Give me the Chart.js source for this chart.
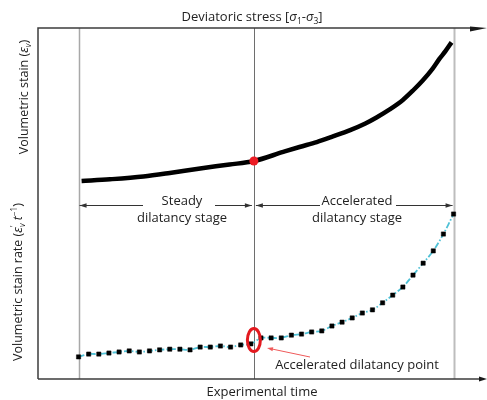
<!DOCTYPE html>
<html>
<head>
<meta charset="utf-8">
<title>Dilatancy stages</title>
<script src="https://cdn.jsdelivr.net/npm/chart.js@4.4.1/dist/chart.umd.min.js"></script>
<style>
    html, body { margin: 0; padding: 0; background: #fff; }
    #wrap { width: 487px; height: 400px; }
</style>
</head>
<body>
<div id="wrap"><canvas id="dilatancyChart" width="487" height="400"></canvas></div>
<script>
// Experimental time samples (arbitrary units) and volumetric strain rate
const timePoints = [0, 1, 2, 3, 4, 5, 6, 7, 8, 9, 10, 11, 12, 13, 14, 15, 16, 17, 18,
    19, 20, 21, 22, 23, 24, 25, 26, 27, 28, 29, 30, 31, 32, 33, 34, 35, 36, 37];
const rateValues = [6.3, 7.1, 7.1, 7.4, 7.7, 8.0, 7.7, 8.0, 8.3, 8.5, 8.5, 8.3, 9.1, 9.1, 9.4, 9.1, 9.7, 10.0, 11.7,
    11.7, 11.7, 12.5, 12.8, 13.4, 13.7, 15.1, 16.2, 17.4, 18.8, 19.7, 21.7, 23.9, 26.2, 29.6, 33.0, 36.5, 41.3, 47.0];

// Volumetric strain curve
const strainTime = [0.3, 3.1, 6.4, 9.0, 12.0, 14.9, 17.3, 20.2, 21.8, 23.5, 25.1, 26.8, 28.3, 29.4,
    30.7, 32.0, 33.0, 34.0, 34.9, 35.6, 36.2, 36.8];
const strainValues = [56.4, 56.9, 57.7, 58.7, 60.0, 61.1, 62.1, 64.7, 66.1, 67.5, 69.1, 70.9, 72.8, 74.5,
    76.8, 79.5, 82.2, 85.2, 88.3, 91.2, 93.4, 95.9];

// Stage boundaries and accelerated dilatancy point
const stageBounds = [0, 17.3, 37];
const pointTime = 17.3;
const pointStrain = 62.1;
const pointRate = 11.1;

const FONT = '"Open Sans", "Noto Sans", sans-serif';
const TEXT = '#222222';

// draw a line of text made of styled pieces, centered on x
function drawRich(ctx, parts, x, y, size) {
    let total = 0;
    parts.forEach(function(p) {
        ctx.font = (p.italic ? 'italic ' : '') + (p.small ? size * 0.65 : size) + 'px ' + FONT;
        p.w = ctx.measureText(p.t).width;
        total += p.advance === false ? 0 : p.w;
    });
    let cx = x - total / 2;
    parts.forEach(function(p) {
        ctx.font = (p.italic ? 'italic ' : '') + (p.small ? size * 0.65 : size) + 'px ' + FONT;
        ctx.textAlign = 'left';
        ctx.fillText(p.t, cx, y + (p.dy || 0));
        if (p.advance !== false) cx += p.w;
    });
}

function arrowHead(ctx, x, y, dir, len, half) {
    ctx.beginPath();
    ctx.moveTo(x, y);
    ctx.lineTo(x - dir * len, y - half);
    ctx.lineTo(x - dir * len, y + half);
    ctx.closePath();
    ctx.fill();
}

const decorPlugin = {
    id: 'decor',
    beforeDatasetsDraw: function(chart) {
        const ctx = chart.ctx;
        const x = chart.scales.x;
        const top = chart.chartArea.top;
        const bottom = chart.chartArea.bottom;
        const styles = [['#a8a8a8', 1.5], ['#6e6e6e', 1], ['#bdbdbd', 2]];
        ctx.save();
        stageBounds.forEach(function(t, i) {
            const px = Math.round(x.getPixelForValue(t)) + 0.5;
            ctx.strokeStyle = styles[i][0];
            ctx.lineWidth = styles[i][1];
            ctx.beginPath();
            ctx.moveTo(px, top);
            ctx.lineTo(px, bottom);
            ctx.stroke();
        });
        ctx.restore();
    },
    afterDatasetsDraw: function(chart) {
        const ctx = chart.ctx;
        const x = chart.scales.x;
        const yR = chart.scales.yRate;
        const area = chart.chartArea;
        ctx.save();

        // red ellipse round the accelerated dilatancy point
        const ex = x.getPixelForValue(pointTime);
        const ey = yR.getPixelForValue(pointRate);
        ctx.strokeStyle = '#e3191f';
        ctx.lineWidth = 3;
        ctx.beginPath();
        ctx.ellipse(ex, ey, 6.5, 11.5, 0, 0, Math.PI * 2);
        ctx.stroke();

        // pointer to the label
        ctx.strokeStyle = '#ef5a5a';
        ctx.fillStyle = '#ef5a5a';
        ctx.lineWidth = 1;
        ctx.beginPath();
        ctx.moveTo(310, 357);
        ctx.lineTo(272, 349);
        ctx.stroke();
        ctx.save();
        ctx.translate(267, 348);
        ctx.rotate(Math.atan2(349 - 357, 272 - 310) + Math.PI);
        arrowHead(ctx, 0, 0, -1, 6, 2);
        ctx.restore();

        // stage arrows
        const b0 = x.getPixelForValue(stageBounds[0]) + 1;
        const b1 = x.getPixelForValue(stageBounds[1]);
        const b2 = x.getPixelForValue(stageBounds[2]) - 1;
        const ay = 205.5;
        ctx.strokeStyle = '#333';
        ctx.fillStyle = '#333';
        ctx.lineWidth = 1;
        ctx.beginPath();
        ctx.moveTo(b0, ay); ctx.lineTo(143, ay);
        ctx.moveTo(215, ay); ctx.lineTo(b1 - 2, ay);
        ctx.moveTo(b1 + 2, ay); ctx.lineTo(320, ay);
        ctx.moveTo(396, ay); ctx.lineTo(b2, ay);
        ctx.stroke();
        arrowHead(ctx, b0, ay, -1, 7, 2.2);
        arrowHead(ctx, b1 - 2, ay, 1, 7, 2.2);
        arrowHead(ctx, b1 + 2, ay, -1, 7, 2.2);
        arrowHead(ctx, b2, ay, 1, 7, 2.2);

        ctx.fillStyle = TEXT;
        ctx.textBaseline = 'middle';
        ctx.textAlign = 'center';
        ctx.font = '13px ' + FONT;
        ctx.fillText('Steady', 182, 201);
        ctx.fillText('dilatancy stage', 182, 218);
        ctx.fillText('Accelerated', 357, 201);
        ctx.fillText('dilatancy stage', 357, 218);
        ctx.fillText('Accelerated dilatancy point', 357, 365);

        // frame: left axis, top and bottom axes with arrows
        ctx.strokeStyle = '#3c3c3c';
        ctx.fillStyle = '#1a1a1a';
        ctx.lineWidth = 1.5;
        ctx.beginPath();
        ctx.moveTo(area.left, area.bottom);
        ctx.lineTo(area.left, area.top);
        ctx.lineTo(474, area.top);
        ctx.moveTo(area.left, area.bottom);
        ctx.lineTo(481, area.bottom);
        ctx.stroke();
        ctx.beginPath();
        ctx.moveTo(470, area.top - 1.5);
        ctx.lineTo(487, area.top);
        ctx.lineTo(470, area.top + 3.5);
        ctx.closePath();
        ctx.fill();
        arrowHead(ctx, 487, area.bottom, 1, 8, 2.5);

        // axis titles
        ctx.fillStyle = TEXT;
        ctx.textBaseline = 'alphabetic';
        ctx.font = '13px ' + FONT;
        ctx.textAlign = 'center';
        ctx.fillText('Experimental time', 262, 396);
        drawRich(ctx, [
            { t: 'Deviatoric stress [' },
            { t: 'σ', italic: true },
            { t: '1', small: true, dy: 3 },
            { t: '-' },
            { t: 'σ', italic: true },
            { t: '3', small: true, dy: 3 },
            { t: ']' }
        ], 252, 21, 13);

        ctx.save();
        ctx.translate(28, 97);
        ctx.rotate(-Math.PI / 2);
        drawRich(ctx, [
            { t: 'Volumetric stain (' },
            { t: 'ε', italic: true },
            { t: 'v', small: true, italic: true, dy: 3 },
            { t: ')' }
        ], 0, 0, 12.5);
        ctx.restore();

        ctx.save();
        ctx.translate(22, 282);
        ctx.rotate(-Math.PI / 2);
        drawRich(ctx, [
            { t: 'Volumetric stain rate (' },
            { t: 'ε', italic: true },
            { t: '\u2019', small: true, dy: -5, advance: false },
            { t: 'v', small: true, italic: true, dy: 3 },
            { t: ' ' },
            { t: 't', italic: true },
            { t: '\u22121', small: true, dy: -5 },
            { t: ')' }
        ], 0, 0, 12.5);
        ctx.restore();

        ctx.restore();
    }
};

document.addEventListener('DOMContentLoaded', function() {
    const rateData = timePoints.map(function(t, i) { return { x: t, y: rateValues[i] }; });
    const strainData = strainTime.map(function(t, i) { return { x: t, y: strainValues[i] }; });

    const config = {
        type: 'line',
        data: {
            datasets: [{
                label: 'Volumetric strain',
                data: strainData,
                yAxisID: 'yStrain',
                order: 2,
                borderColor: '#000',
                borderWidth: 4.5,
                pointRadius: 0,
                cubicInterpolationMode: 'monotone',
                clip: false
            }, {
                label: 'Accelerated dilatancy point',
                data: [{ x: pointTime, y: pointStrain }],
                yAxisID: 'yStrain',
                order: 0,
                showLine: false,
                pointRadius: 4.5,
                pointBorderWidth: 0,
                pointBackgroundColor: '#ec1c24',
                pointBorderColor: '#ec1c24',
                clip: false
            }, {
                label: 'Volumetric strain rate',
                data: rateData,
                yAxisID: 'yRate',
                order: 1,
                borderColor: '#4fc1d6',
                borderWidth: 1.8,
                borderDash: [6, 2, 1.5, 2],
                tension: 0.3,
                pointStyle: 'rect',
                pointRadius: 3,
                pointBackgroundColor: '#000',
                pointBorderColor: '#000',
                pointBorderWidth: 0.5,
                clip: false
            }]
        },
        options: {
            responsive: false,
            animation: false,
            layout: { autoPadding: false, padding: { left: 38, top: 28, right: 0, bottom: 21 } },
            plugins: { legend: { display: false }, tooltip: { enabled: false } },
            scales: {
                x: { type: 'linear', min: -4, max: 40.3, display: false },
                yStrain: { type: 'linear', min: 0, max: 100, display: false },
                yRate: { type: 'linear', min: 0, max: 100, display: false }
            }
        },
        plugins: [decorPlugin]
    };

    const chartCtx = document.getElementById('dilatancyChart').getContext('2d');
    new Chart(chartCtx, config);
});
</script>
</body>
</html>
